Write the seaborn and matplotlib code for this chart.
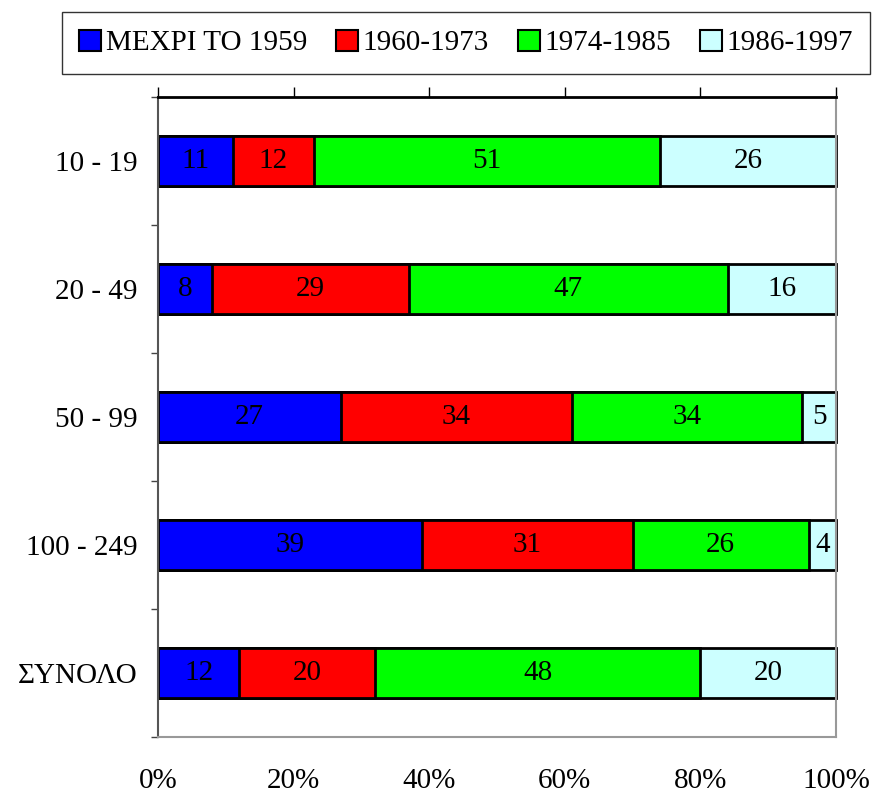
import numpy as np
import pandas as pd
import matplotlib
matplotlib.use("Agg")
import matplotlib.pyplot as plt
import seaborn as sns
from matplotlib.patches import Patch

sizes = ["10 - 19", "20 - 49", "50 - 99", "100 - 249", "ΣΥΝΟΛΟ"]
periods = ["ΜΕΧΡΙ ΤΟ 1959", "1960-1973", "1974-1985", "1986-1997"]
until_1959 = [11, 8, 27, 39, 12]
p1960_1973 = [12, 29, 34, 31, 20]
p1974_1985 = [51, 47, 34, 26, 48]
p1986_1997 = [26, 16, 5, 4, 20]
colors = ["#0000FF", "#FF0000", "#00FF00", "#CCFFFF"]

sns.set_style("white")
plt.rcParams['font.family'] = ['Liberation Serif', 'DejaVu Serif']
plt.rcParams['text.color'] = 'black'
plt.rcParams['xtick.color'] = 'black'
plt.rcParams['ytick.color'] = 'black'
FS = 21

series = [until_1959, p1960_1973, p1974_1985, p1986_1997]
cum = np.cumsum(np.array(series), axis=0)

fig, ax = plt.subplots(figsize=(8.74, 7.94), dpi=100)
fig.subplots_adjust(left=158/874, right=836/874, top=1 - 97/794, bottom=1 - 737/794)

# draw cumulative bars from longest to shortest so they stack
for i in range(3, -1, -1):
    df = pd.DataFrame({"size": sizes, "val": cum[i]})
    sns.barplot(data=df, x="val", y="size", orient="h", color=colors[i],
                width=0.39, edgecolor="black", linewidth=2, saturation=1, ax=ax)
for p in ax.patches:
    p.set_clip_on(False)

for i in range(4):
    for j in range(len(sizes)):
        left = cum[i][j] - series[i][j]
        ax.text(left + series[i][j] / 2, j, str(series[i][j]), ha="center",
                va="center", fontsize=FS, color="black")

ax.set_xlim(0, 100)
ax.set_ylim(4.5, -0.5)
ax.set_xlabel("")
ax.set_ylabel("")
ax.set_xticks(np.arange(0, 101, 20))
ax.set_xticklabels([f"{v}%" for v in range(0, 101, 20)], fontsize=FS)
ax.tick_params(axis="x", which="both", top=True, bottom=False, labeltop=False,
               labelbottom=True, direction="out", length=7, width=1, color="black",
               labelcolor="black", pad=15)
ax.set_yticks(range(len(sizes)))
ax.set_yticklabels(sizes, fontsize=FS)
ax.tick_params(axis="y", which="major", length=0, pad=15, labelcolor="black")
ax.set_yticks(np.arange(-0.5, 4.6, 1), minor=True)
ax.tick_params(axis="y", which="minor", left=True, length=5, width=1, color="#444444", direction="out")

ax.spines["top"].set_color("black")
ax.spines["top"].set_linewidth(2)
ax.spines["left"].set_color("#555555")
ax.spines["left"].set_linewidth(1.5)
ax.spines["right"].set_color("#999999")
ax.spines["right"].set_linewidth(1.5)
ax.spines["bottom"].set_color("#999999")
ax.spines["bottom"].set_linewidth(1.5)

handles = [Patch(facecolor=c, edgecolor="black", linewidth=1.5) for c in colors]
leg = fig.legend(handles, periods, loc="center", bbox_to_anchor=(466/874, 1 - 43/794),
                 ncol=4, fontsize=FS, frameon=True, fancybox=False, edgecolor="black",
                 handlelength=0.75, handleheight=0.75, handletextpad=0.15, columnspacing=1.0,
                 borderpad=0.6)
leg.get_frame().set_linewidth(1)
for t in leg.get_texts():
    t.set_color("black")

fig.savefig("out.png", dpi=100)
